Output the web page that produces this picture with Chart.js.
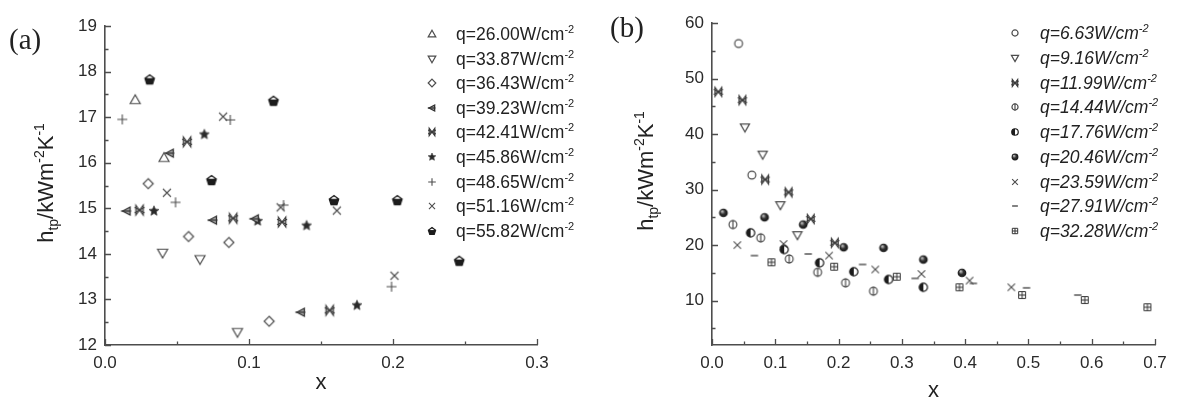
<!DOCTYPE html>
<html>
<head>
<meta charset="utf-8">
<script src="https://cdn.jsdelivr.net/npm/chart.js@4.4.0/dist/chart.umd.min.js"></script>
<style>
  html, body { margin: 0; padding: 0; background: #fff; }
  #wrap { position: relative; width: 1182px; height: 399px; }
  canvas { position: absolute; top: 0; }
</style>
</head>
<body>
<div id="wrap">
  <canvas id="ca" width="590" height="399" style="left:0"></canvas>
  <canvas id="cb" width="592" height="399" style="left:590px"></canvas>
</div>
<script>
// ---- panel (a) data ----
var aQ = ['26.00', '33.87', '36.43', '39.23', '42.41', '45.86', '48.65', '51.16', '55.82'];
var aX = [
  [0.021, 0.041],
  [0.040, 0.066, 0.092],
  [0.030, 0.058, 0.086, 0.114],
  [0.015, 0.045, 0.075, 0.104, 0.136],
  [0.024, 0.057, 0.089, 0.123, 0.156],
  [0.034, 0.069, 0.106, 0.140, 0.175],
  [0.012, 0.049, 0.087, 0.124, 0.199],
  [0.043, 0.082, 0.122, 0.161, 0.201],
  [0.031, 0.074, 0.117, 0.159, 0.203, 0.246]
];
var aY = [
  [17.38, 16.11],
  [14.02, 13.88, 12.28],
  [15.54, 14.38, 14.25, 12.52],
  [14.94, 16.21, 14.74, 14.77, 12.72],
  [14.96, 16.46, 14.78, 14.70, 12.76],
  [14.94, 16.62, 14.72, 14.62, 12.87],
  [16.95, 15.13, 16.94, 15.07, 13.28],
  [15.34, 17.01, 15.02, 14.95, 13.52],
  [17.83, 15.62, 17.36, 15.18, 15.18, 13.85]
];
var aXTicks = [0, 0.1, 0.2, 0.3];
var aYTicks = [12, 13, 14, 15, 16, 17, 18, 19];

// ---- panel (b) data ----
var bQ = ['6.63', '9.16', '11.99', '14.44', '17.76', '20.46', '23.59', '27.91', '32.28'];
var bX = [
  [0.042, 0.063],
  [0.052, 0.080, 0.108, 0.135],
  [0.010, 0.048, 0.084, 0.121, 0.156, 0.194],
  [0.033, 0.077, 0.122, 0.167, 0.211, 0.255],
  [0.061, 0.114, 0.170, 0.224, 0.279, 0.334],
  [0.018, 0.083, 0.144, 0.208, 0.271, 0.334, 0.395],
  [0.040, 0.113, 0.185, 0.258, 0.331, 0.407, 0.473],
  [0.067, 0.152, 0.238, 0.321, 0.413, 0.497, 0.578],
  [0.094, 0.193, 0.292, 0.391, 0.490, 0.589, 0.688]
];
var bY = [
  [56.3, 32.6],
  [41.2, 36.3, 27.2, 21.8],
  [47.6, 46.1, 31.8, 29.5, 24.7, 20.4],
  [23.7, 21.3, 17.5, 15.1, 13.2, 11.7],
  [22.2, 19.2, 16.8, 15.2, 13.8, 12.4],
  [25.8, 25.0, 23.7, 19.6, 19.5, 17.4, 15.0],
  [20.0, 20.2, 18.1, 15.6, 14.8, 13.6, 12.4],
  [18.1, 18.4, 16.5, 14.0, 13.1, 12.3, 11.0],
  [16.9, 16.1, 14.3, 12.4, 11.0, 10.1, 8.8]
];
var bXTicks = [0, 0.1, 0.2, 0.3, 0.4, 0.5, 0.6, 0.7];
var bYTicks = [10, 20, 30, 40, 50, 60];

var INK = '#4d4d4d';
var DARK = '#1c1c1c';
var SANS = '"Liberation Sans", Arial, sans-serif';

// small canvas sprites used as point styles
function marker(kind, r) {
  var s = Math.ceil(r * 2 + 6);
  if (s % 2) s++;
  var c = document.createElement('canvas');
  c.width = s; c.height = s;
  var g = c.getContext('2d');
  g.translate(s / 2, s / 2);
  g.lineWidth = 1.2;
  g.strokeStyle = INK;
  g.fillStyle = DARK;
  g.beginPath();
  var i, a;
  switch (kind) {
    case 'tri':
      g.moveTo(0, -r); g.lineTo(r, r * 0.75); g.lineTo(-r, r * 0.75); g.closePath(); g.stroke();
      break;
    case 'tridown':
      g.moveTo(0, r); g.lineTo(r, -r * 0.75); g.lineTo(-r, -r * 0.75); g.closePath(); g.stroke();
      break;
    case 'diamond':
      g.moveTo(0, -r); g.lineTo(r, 0); g.lineTo(0, r); g.lineTo(-r, 0); g.closePath(); g.stroke();
      break;
    case 'tleft':
      g.moveTo(-r * 0.8, 0); g.lineTo(r * 0.7, -r * 0.8); g.lineTo(r * 0.7, r * 0.8); g.closePath();
      g.fillStyle = '#a8a8a8'; g.fill(); g.strokeStyle = '#333'; g.lineWidth = 1.3; g.stroke();
      g.beginPath(); g.moveTo(-r * 1.1, 0); g.lineTo(r * 0.9, 0); g.stroke();
      break;
    case 'bowtie':
      g.moveTo(-r * 0.75, -r); g.lineTo(r * 0.75, r); g.lineTo(r * 0.75, -r); g.lineTo(-r * 0.75, r); g.closePath();
      g.fillStyle = '#c4c4c4'; g.fill(); g.strokeStyle = '#3a3a3a'; g.lineWidth = 1.1; g.stroke();
      g.beginPath(); g.moveTo(-r, -r * 0.55); g.lineTo(r, r * 0.55); g.moveTo(r, -r * 0.55); g.lineTo(-r, r * 0.55); g.stroke();
      break;
    case 'star':
      for (i = 0; i < 10; i++) {
        a = -Math.PI / 2 + i * Math.PI / 5;
        var rr = i % 2 ? r * 0.5 : r * 1.05;
        g.lineTo(rr * Math.cos(a), rr * Math.sin(a));
      }
      g.closePath(); g.fillStyle = '#2a2a2a'; g.fill(); g.strokeStyle = '#555'; g.lineWidth = 0.8; g.stroke();
      break;
    case 'plus':
      g.lineWidth = 1.1;
      g.moveTo(-r, 0); g.lineTo(r, 0); g.moveTo(0, -r); g.lineTo(0, r); g.stroke();
      break;
    case 'cross':
      g.lineWidth = 1.1;
      g.moveTo(-r * 0.8, -r * 0.8); g.lineTo(r * 0.8, r * 0.8); g.moveTo(r * 0.8, -r * 0.8); g.lineTo(-r * 0.8, r * 0.8); g.stroke();
      break;
    case 'pent':
      for (i = 0; i < 5; i++) {
        a = -Math.PI / 2 + i * 2 * Math.PI / 5;
        g.lineTo(r * Math.cos(a), r * Math.sin(a) + r * 0.1);
      }
      g.closePath(); g.fill();
      g.save(); g.clip();
      g.fillStyle = '#fff'; g.fillRect(-r * 0.55, -r * 0.7, r * 1.1, r * 0.45);
      g.restore();
      g.strokeStyle = DARK; g.stroke();
      break;
    case 'circle':
      g.arc(0, 0, r * 0.85, 0, Math.PI * 2); g.stroke();
      break;
    case 'phi':
      g.arc(0, 0, r * 0.85, 0, Math.PI * 2); g.stroke();
      g.beginPath(); g.moveTo(0, -r); g.lineTo(0, r); g.stroke();
      break;
    case 'half':
      g.arc(0, 0, r * 0.9, Math.PI / 2, Math.PI * 1.5); g.closePath(); g.fill();
      g.beginPath(); g.arc(0, 0, r * 0.9, 0, Math.PI * 2); g.strokeStyle = DARK; g.stroke();
      break;
    case 'sphere':
      var gr = g.createRadialGradient(-r * 0.3, -r * 0.35, r * 0.1, 0, 0, r);
      gr.addColorStop(0, '#bdbdbd'); gr.addColorStop(0.45, '#333'); gr.addColorStop(1, '#111');
      g.fillStyle = gr;
      g.arc(0, 0, r * 0.95, 0, Math.PI * 2); g.fill();
      break;
    case 'dash':
      g.lineWidth = 1.4;
      g.moveTo(-r * 0.8, 0); g.lineTo(r * 0.8, 0); g.stroke();
      break;
    case 'gridsq':
      g.lineWidth = 1;
      g.rect(-r * 0.75, -r * 0.75, r * 1.5, r * 1.5);
      g.moveTo(0, -r * 0.75); g.lineTo(0, r * 0.75); g.moveTo(-r * 0.75, 0); g.lineTo(r * 0.75, 0);
      g.strokeStyle = '#333'; g.stroke();
      break;
  }
  return c;
}

// text with super/subscripts: segs = [[text, level]], level 1 = sup, -1 = sub
function richWidth(ctx, segs, size, family, style) {
  var w = 0;
  segs.forEach(function (sg) {
    ctx.font = style + ' ' + (sg[1] ? Math.round(size * 0.62) : size) + 'px ' + family;
    w += ctx.measureText(sg[0]).width;
  });
  return w;
}
function drawRich(ctx, segs, x, y, size, family, style, align) {
  var w = richWidth(ctx, segs, size, family, style);
  var cx = align === 'center' ? x - w / 2 : x;
  ctx.textAlign = 'left';
  ctx.textBaseline = 'alphabetic';
  segs.forEach(function (sg) {
    ctx.font = style + ' ' + (sg[1] ? Math.round(size * 0.62) : size) + 'px ' + family;
    var dy = sg[1] > 0 ? -size * 0.4 : sg[1] < 0 ? size * 0.24 : 0;
    ctx.fillText(sg[0], cx, y + dy);
    cx += ctx.measureText(sg[0]).width;
  });
}

var decor = {
  id: 'decor',
  afterDraw: function (chart) {
    var o = chart.options.plugins.decor;
    var ctx = chart.ctx;
    var xs = chart.scales.x, ys = chart.scales.y;
    var area = chart.chartArea;
    ctx.save();
    // inward major / minor ticks
    ctx.strokeStyle = INK;
    ctx.lineWidth = 1.3;
    ctx.beginPath();
    o.xMinor.forEach(function (v, i) {
      var px = Math.round(xs.getPixelForValue(v)) + 0.5;
      var len = i % 2 === 0 ? 6 : 3.5;
      ctx.moveTo(px, area.bottom); ctx.lineTo(px, area.bottom - len);
    });
    o.yMinor.forEach(function (v) {
      var py = Math.round(ys.getPixelForValue(v)) + 0.5;
      var len = o.yMajor.indexOf(v) >= 0 ? 6 : 3.5;
      ctx.moveTo(area.left, py); ctx.lineTo(area.left + len, py);
    });
    ctx.stroke();

    ctx.fillStyle = '#222';
    // x title
    ctx.font = '22px ' + SANS;
    ctx.textAlign = 'center';
    ctx.textBaseline = 'alphabetic';
    ctx.fillText('x', (area.left + area.right) / 2, o.xTitleY);
    // y title
    ctx.save();
    ctx.translate(o.yTitleX, o.yTitleY);
    ctx.rotate(-Math.PI / 2);
    drawRich(ctx, [['h', 0], ['tp', -1], ['/kWm', 0], ['-2', 1], ['K', 0], ['-1', 1]], 0, 8, 22, SANS, 'normal', 'center');
    ctx.restore();
    // panel label
    ctx.font = '29px "Liberation Serif", "Times New Roman", serif';
    ctx.textAlign = 'left';
    ctx.fillText(o.tag, o.tagX, o.tagY);
    // legend
    chart.data.datasets.forEach(function (ds, i) {
      var cy = o.legTop + i * o.legGap;
      var m = o.legMarks[i];
      ctx.drawImage(m, Math.round(o.legX - m.width / 2), Math.round(cy - m.height / 2));
      ctx.fillStyle = '#222';
      drawRich(ctx, [['q=' + o.q[i] + 'W/cm', 0], ['-2', 1]], o.legTextX, cy + 6, 17.5, SANS, o.legStyle, 'left');
    });
    ctx.restore();
  }
};

function buildPanel(id, p) {
  var datasets = p.xs.map(function (xs, i) {
    return {
      label: 'q=' + p.q[i],
      data: xs.map(function (x, j) { return { x: x, y: p.ys[i][j] }; }),
      pointStyle: marker(p.kinds[i], p.r),
      pointRadius: p.r,
      showLine: false
    };
  });
  var tickFont = { family: SANS, size: 17 };
  return new Chart(document.getElementById(id), {
    type: 'scatter',
    data: { datasets: datasets },
    plugins: [decor],
    options: {
      responsive: false,
      animation: false,
      layout: { padding: { left: 0, right: p.padR, top: p.padT, bottom: 0 } },
      plugins: {
        legend: { display: false },
        tooltip: { enabled: false },
        decor: p.decor
      },
      scales: {
        x: {
          type: 'linear',
          min: p.xMin, max: p.xMax,
          afterBuildTicks: function (s) { s.ticks = p.xTicks.map(function (v) { return { value: v }; }); },
          afterFit: function (s) { s.height = 54; },
          ticks: { font: tickFont, color: '#2a2a2a', padding: 8, maxRotation: 0, autoSkip: false,
            callback: function (v) { return Number(v).toFixed(1); } },
          grid: { display: false, drawTicks: false },
          border: { display: true, color: INK, width: 1.6 }
        },
        y: {
          type: 'linear',
          min: p.yMin, max: p.yMax,
          afterBuildTicks: function (s) { s.ticks = p.yTicks.map(function (v) { return { value: v }; }); },
          afterFit: function (s) { s.width = p.left; },
          ticks: { font: tickFont, color: '#2a2a2a', padding: 8, autoSkip: false },
          grid: { display: false, drawTicks: false },
          border: { display: true, color: INK, width: 1.6 }
        }
      }
    }
  });
}

function steps(a, b, d) {
  var out = [];
  for (var v = a; v <= b + 1e-9; v += d) out.push(Math.round(v * 1000) / 1000);
  return out;
}

var aKinds = ['tri', 'tridown', 'diamond', 'tleft', 'bowtie', 'star', 'plus', 'cross', 'pent'];
var bKinds = ['circle', 'tridown', 'bowtie', 'phi', 'half', 'sphere', 'cross', 'dash', 'gridsq'];

buildPanel('ca', {
  xs: aX, ys: aY, q: aQ, kinds: aKinds, r: 5,
  xMin: 0, xMax: 0.3, yMin: 12, yMax: 19,
  xTicks: aXTicks, yTicks: aYTicks,
  left: 105, padR: 53, padT: 26,
  decor: {
    xMinor: steps(0, 0.3, 0.05), yMinor: steps(12, 19, 0.5), yMajor: aYTicks,
    xTitleY: 389, yTitleX: 45, yTitleY: 183,
    tag: '(a)', tagX: 9, tagY: 49,
    legX: 432, legTextX: 456, legTop: 34, legGap: 24.6,
    legMarks: aKinds.map(function (k) { return marker(k, 3.8); }),
    q: aQ, legStyle: 'normal'
  }
});

buildPanel('cb', {
  xs: bX, ys: bY, q: bQ, kinds: bKinds, r: 4.6,
  xMin: 0, xMax: 0.7, yMin: 2, yMax: 60,
  xTicks: bXTicks, yTicks: bYTicks,
  left: 122, padR: 27, padT: 23,
  decor: {
    xMinor: steps(0, 0.7, 0.05), yMinor: steps(5, 60, 5), yMajor: bYTicks,
    xTitleY: 397, yTitleX: 55, yTitleY: 171,
    tag: '(b)', tagX: 20, tagY: 37,
    legX: 425, legTextX: 450, legTop: 33, legGap: 24.75,
    legMarks: bKinds.map(function (k) { return marker(k, 3.6); }),
    q: bQ, legStyle: 'italic'
  }
});
</script>
</body>
</html>
